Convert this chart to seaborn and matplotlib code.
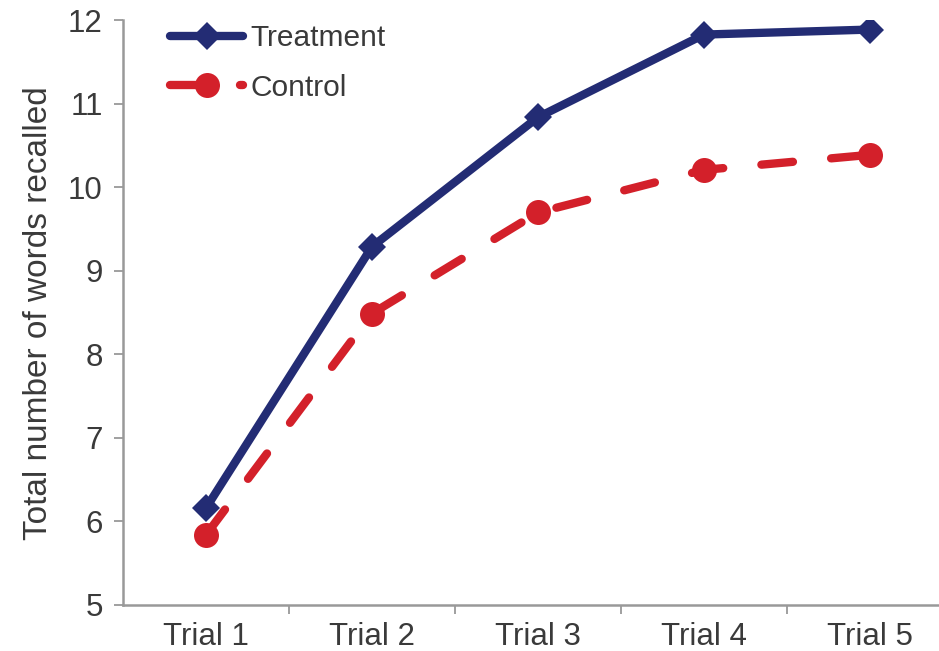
import numpy as np
import matplotlib
matplotlib.use("Agg")
import matplotlib.pyplot as plt
import pandas as pd
import seaborn as sns

trials = ["Trial 1", "Trial 2", "Trial 3", "Trial 4", "Trial 5"]
treatment = [6.16, 9.29, 10.84, 11.83, 11.89]
control = [5.84, 8.49, 9.70, 10.21, 10.39]

df = pd.DataFrame({"Trial": trials, "Treatment": treatment, "Control": control})

sns.set_theme(style="white")
plt.rcParams['font.family'] = ['Liberation Sans', 'DejaVu Sans']

fig = plt.figure(figsize=(9.39, 6.51), dpi=100)
ax = fig.add_axes([0.131, 0.0707, 0.869, 0.898])

sns.lineplot(x='Trial', y='Treatment', data=df, ax=ax, color='#232C74', linewidth=6,
             marker='D', markersize=14.5, markeredgewidth=0, label='Treatment',
             solid_capstyle='round')
sns.lineplot(x='Trial', y='Control', data=df, ax=ax, color='#D3202A', linewidth=6,
             marker='o', markersize=18, markeredgewidth=0, label='Control',
             linestyle=(0, (3.8, 4.6)), dash_capstyle='round')

ax.set_xlim(-0.5, 4.416)
ax.set_ylim(5, 12)
ax.set_yticks(range(5, 13))
ax.set_xticks(range(5))
ax.set_xticklabels(trials)
ax.set_xticks([0.5, 1.5, 2.5, 3.5], minor=True)
ax.tick_params(axis='x', which='major', length=0, labelsize=22.5, colors='#3a3a3a', pad=12)
ax.tick_params(axis='x', which='minor', length=6.5, width=1.3, color='#999999', bottom=True, direction='out')
ax.tick_params(axis='y', length=6.5, width=1.3, color='#999999', labelsize=22.5, labelcolor='#3a3a3a',
               left=True, direction='out', pad=8)

for s in ['top', 'right']:
    ax.spines[s].set_visible(False)
for s in ['left', 'bottom']:
    ax.spines[s].set_color('#999999')
    ax.spines[s].set_linewidth(1.8)

ax.set_xlabel("")
ax.set_ylabel("Total number of words recalled", fontsize=24, color='#3a3a3a', labelpad=10)

leg = ax.legend(loc='upper left', bbox_to_anchor=(170 / 939, 1 - 24 / 651),
                bbox_transform=fig.transFigure, frameon=False, fontsize=21.5,
                borderpad=0, borderaxespad=0,
                handlelength=2.45, handletextpad=0.25, labelspacing=0.72)
for t in leg.get_texts():
    t.set_color('#3a3a3a')

fig.savefig("out.png", dpi=100)
